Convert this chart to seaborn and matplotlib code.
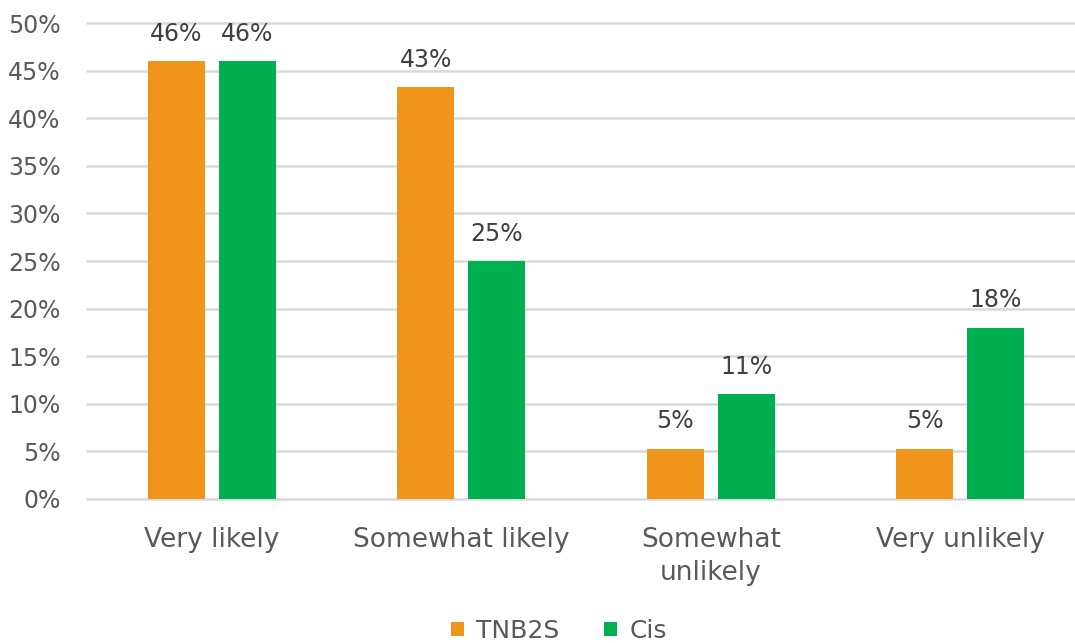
import matplotlib
matplotlib.use('Agg')
import matplotlib.pyplot as plt
import pandas as pd
import seaborn as sns

# data
categories = ["Very likely", "Somewhat likely", "Somewhat\nunlikely", "Very unlikely"]
tnb2s = [46, 43.3, 5.3, 5.3]
cis = [46, 25, 11, 18]
series = ["TNB2S", "Cis"]
colors = ["#F0941C", "#00B050"]

df = pd.DataFrame({
    "category": categories * 2,
    "group": ["TNB2S"] * 4 + ["Cis"] * 4,
    "value": tnb2s + cis,
})

sns.set_style("white")
plt.rcParams['font.family'] = ['DejaVu Sans']

fig = plt.figure(figsize=(10.75, 6.43), dpi=100)
ax = fig.add_axes([0.081, 0.224, 0.919, 0.740])

sns.barplot(data=df, x="category", y="value", hue="group", hue_order=series,
            palette=colors, width=0.57, gap=0.2, ax=ax, saturation=1,
            edgecolor="none", zorder=3)

# data labels
for container in ax.containers:
    ax.bar_label(container, labels=[f"{v:.0f}%" for v in container.datavalues],
                 padding=11, fontsize=17, color="#404040", clip_on=False)

ax.set_ylim(0, 50)
ax.set_xlim(-0.5, 3.46)
ax.set_yticks(range(0, 51, 5))
ax.set_yticklabels([f"{t}%" for t in range(0, 51, 5)])
ax.yaxis.grid(True, color="#D9D9D9", linewidth=1.8, zorder=0)
for gl in ax.get_ygridlines():
    gl.set_clip_on(False)
ax.set_axisbelow(True)
for s in ax.spines.values():
    s.set_visible(False)
ax.tick_params(axis='both', length=0, colors="#595959")
ax.tick_params(axis='y', pad=19, labelsize=17)
ax.tick_params(axis='x', pad=20, labelsize=19)
for lbl in ax.get_xticklabels():
    lbl.set_linespacing(1.35)
ax.set_xlabel("")
ax.set_ylabel("")

handles, labels = ax.get_legend_handles_labels()
ax.legend_.remove()
fig.legend(handles, labels, loc="lower center", bbox_to_anchor=(0.52, -0.035), ncol=2,
           frameon=False, fontsize=18, handlelength=0.5, handleheight=0.5,
           handletextpad=0.5, columnspacing=1.8, labelcolor="#595959")

fig.savefig("out.png", dpi=100)
plt.close(fig)
